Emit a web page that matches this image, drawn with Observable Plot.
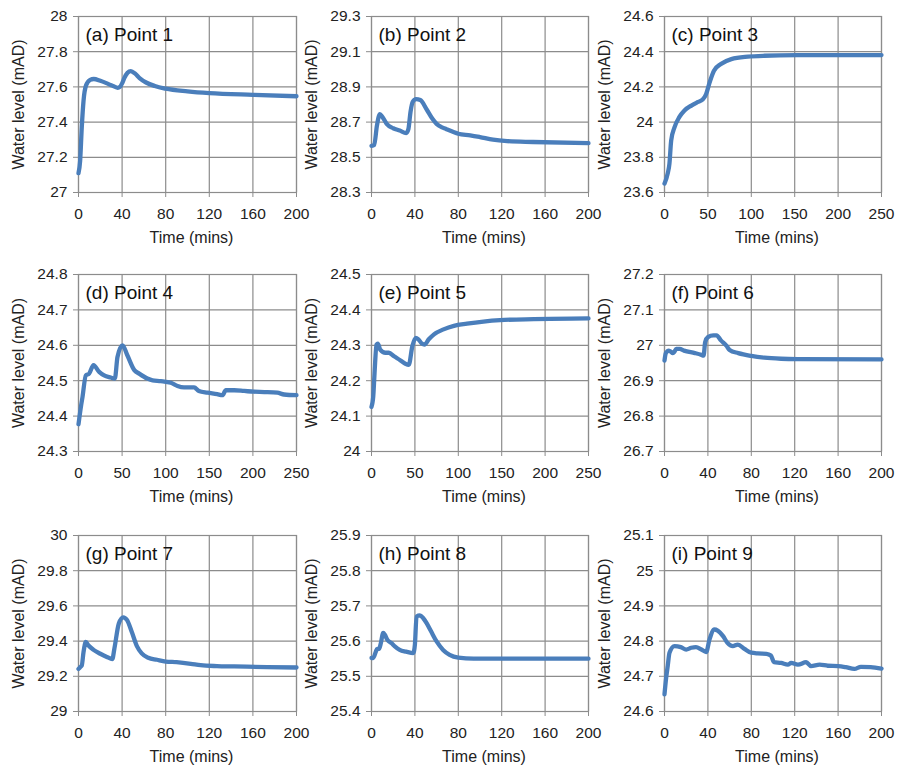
<!DOCTYPE html>
<html><head><meta charset="utf-8">
<script src="https://cdn.jsdelivr.net/npm/d3@7"></script>
<script src="https://cdn.jsdelivr.net/npm/@observablehq/plot@0.6"></script>
<style>
body{margin:0;background:#fff;}
#wrap{position:relative;width:897px;height:769px;background:#fff;overflow:hidden;}
.cell{position:absolute;}
.cell svg{overflow:visible;background:transparent;}
.cell svg .tick line{stroke:#8c8c8c;}
.cell svg g[aria-label="x-axis tick"] path,.cell svg g[aria-label="y-axis tick"] path{stroke:#8c8c8c;}
</style></head><body><div id="wrap"></div>
<script>
// ---- tick labels ----
const xTicks200 = [0, 40, 80, 120, 160, 200];
const xTicks250 = [0, 50, 100, 150, 200, 250];
const yTicksP1 = [27, 27.2, 27.4, 27.6, 27.8, 28];
const yTicksP2 = [28.3, 28.5, 28.7, 28.9, 29.1, 29.3];
const yTicksP3 = [23.6, 23.8, 24, 24.2, 24.4, 24.6];
const yTicksP4 = [24.3, 24.4, 24.5, 24.6, 24.7, 24.8];
const yTicksP5 = [24, 24.1, 24.2, 24.3, 24.4, 24.5];
const yTicksP6 = [26.7, 26.8, 26.9, 27, 27.1, 27.2];
const yTicksP7 = [29, 29.2, 29.4, 29.6, 29.8, 30];
const yTicksP8 = [25.4, 25.5, 25.6, 25.7, 25.8, 25.9];
const yTicksP9 = [24.6, 24.7, 24.8, 24.9, 25, 25.1];

// ---- series (time in mins, water level in mAD) ----
const p1Time  = [0,1.5,3,4.6,7,10.7,14,20,30,36,38,40,42,45,48,52,56,62,70,80,100,120,160,200];
const p1Level = [27.11,27.18,27.37,27.52,27.61,27.64,27.645,27.635,27.61,27.595,27.6,27.62,27.65,27.68,27.69,27.675,27.65,27.625,27.605,27.59,27.575,27.565,27.555,27.547];

const p2Time  = [0,2.5,5,7.7,10,14,20,26,32,34,36,38,41,45,51,56,60,65,69,75,80,91,100,112,125,149,200];
const p2Level = [28.565,28.57,28.68,28.745,28.73,28.69,28.665,28.652,28.638,28.66,28.76,28.815,28.83,28.825,28.77,28.72,28.69,28.67,28.66,28.645,28.634,28.625,28.615,28.6,28.592,28.587,28.58];

const p3Time  = [0,3.8,5.7,7.7,11.5,17,23,31,38,44,48,52,57,65,77,96,115,153,250];
const p3Level = [23.651,23.71,23.764,23.896,23.97,24.028,24.066,24.094,24.113,24.128,24.16,24.226,24.292,24.33,24.358,24.372,24.377,24.38,24.381];

const p4Time  = [0,3,4.6,8.4,12.2,17.2,23.7,29.4,37,41.7,44.7,50.5,56,64,69.6,79,85,94.4,106,113.5,121,132.6,138,148,159,165,169,178.5,190,201,213,228,235.8,250];
const p4Level = [24.377,24.43,24.454,24.515,24.52,24.544,24.525,24.515,24.509,24.506,24.567,24.6,24.572,24.53,24.52,24.506,24.501,24.499,24.494,24.485,24.481,24.481,24.471,24.466,24.462,24.459,24.473,24.473,24.471,24.469,24.468,24.466,24.461,24.459];

const p5Time  = [0,2,3.5,5.8,7.3,10,16,20,26,33,39,43,47,51,54,58,61,66,72,83,95,110,129,148,187,250];
const p5Level = [24.126,24.155,24.221,24.302,24.305,24.288,24.279,24.279,24.269,24.258,24.248,24.245,24.297,24.321,24.317,24.305,24.302,24.317,24.331,24.345,24.355,24.361,24.367,24.371,24.374,24.376];

const p6Time  = [0,1,2,3.7,5.5,7.7,9.2,10.8,14,18,28,34,36,37.5,40,45,48,52,57,60,68,80,92,107.5,123,200];
const p6Level = [26.957,26.976,26.981,26.985,26.983,26.978,26.982,26.99,26.99,26.985,26.978,26.973,26.971,27.009,27.023,27.028,27.028,27.014,26.999,26.987,26.978,26.97,26.965,26.962,26.961,26.96];

const p7Time  = [0,1.5,3,4.6,6.7,9.2,13.8,20,26,31,33,37,41,44.5,49,53.7,58,64,72,80,90,103,112,127,143,173,200];
const p7Level = [29.242,29.252,29.261,29.337,29.395,29.375,29.35,29.328,29.31,29.298,29.36,29.5,29.535,29.52,29.45,29.37,29.33,29.305,29.294,29.284,29.28,29.271,29.263,29.258,29.256,29.252,29.25];

const p8Time  = [0,1.5,4,5.2,7,8.6,10.8,12.3,14.5,18.5,21.5,26,32,38.5,40,41.5,44.6,47.7,50.8,55,60,66,72,80,94,200];
const p8Level = [25.552,25.552,25.57,25.578,25.578,25.594,25.623,25.618,25.604,25.594,25.585,25.575,25.57,25.566,25.59,25.67,25.673,25.665,25.651,25.627,25.599,25.575,25.561,25.553,25.55,25.55];

const p9Time  = [0,1.5,3,4.6,9.2,15,20,24.6,29,34,38.4,41.5,46,49,54,58,63,67.6,73.7,80,86,94,98,101,107.5,113.7,116.7,123,130.6,135,143,150.5,160,167,175,181,190,200];
const p9Level = [24.649,24.695,24.73,24.767,24.786,24.783,24.776,24.781,24.783,24.776,24.769,24.805,24.833,24.83,24.814,24.795,24.786,24.79,24.778,24.767,24.765,24.764,24.759,24.74,24.738,24.733,24.738,24.733,24.74,24.729,24.733,24.73,24.729,24.726,24.721,24.727,24.726,24.722];

const titles = ["(a) Point 1","(b) Point 2","(c) Point 3","(d) Point 4","(e) Point 5","(f) Point 6","(g) Point 7","(h) Point 8","(i) Point 9"];
const xLabel = "Time (mins)";
const yLabel = "Water level (mAD)";

const series = [
  [p1Time,p1Level,xTicks200,yTicksP1],
  [p2Time,p2Level,xTicks200,yTicksP2],
  [p3Time,p3Level,xTicks250,yTicksP3],
  [p4Time,p4Level,xTicks250,yTicksP4],
  [p5Time,p5Level,xTicks250,yTicksP5],
  [p6Time,p6Level,xTicks200,yTicksP6],
  [p7Time,p7Level,xTicks200,yTicksP7],
  [p8Time,p8Level,xTicks200,yTicksP8],
  [p9Time,p9Level,xTicks200,yTicksP9]
];

// layout (page pixels)
const colOrigin = [0, 300, 597];
const rowOrigin = [0, 256, 512];
const colFrame = [[78,296],[371,588],[664,881]];
const rowFrame = [[16,192],[274,451],[535,711]];
const W = 300, H = 256;
const grid = "#8c8c8c";
const font = "Arial, 'Liberation Sans', sans-serif";

const wrap = document.getElementById("wrap");
series.forEach(([tArr, vArr, xT, yT], i) => {
  const c = i % 3, r = Math.floor(i / 3);
  const ox = colOrigin[c], oy = rowOrigin[r];
  const [L, R] = colFrame[c], [T, B] = rowFrame[r];
  const data = tArr.map((t, j) => ({t, v: vArr[j]}));
  const chart = Plot.plot({
    width: W, height: H,
    marginLeft: L - ox, marginRight: ox + W - R,
    marginTop: T - oy, marginBottom: oy + H - B,
    style: {fontSize: "15.5px", fontFamily: font, color: "#222", background: "transparent", overflow: "visible"},
    x: {domain: [xT[0], xT[xT.length-1]], ticks: xT, tickSize: 5, tickPadding: 10, tickFormat: d => String(d), label: null},
    y: {domain: [yT[0], yT[yT.length-1]], ticks: yT, tickSize: 5, tickPadding: 6, tickFormat: d => String(d), label: null},
    marks: [
      Plot.ruleX(xT, {stroke: grid, strokeWidth: 1.2}),
      Plot.ruleY(yT, {stroke: grid, strokeWidth: 1.2}),
      Plot.frame({stroke: grid, strokeWidth: 1.2}),
      Plot.text([titles[i]], {text: d => d, frameAnchor: "top-left", dx: 7, dy: 11, textAnchor: "start", lineAnchor: "top", fontSize: 19, fill: "#111"}),
      Plot.line(data, {x: "t", y: "v", stroke: "#4A7EBB", strokeWidth: 4.3, curve: "monotone-x", strokeLinejoin: "round", strokeLinecap: "round"}),
      Plot.text([xLabel], {text: d => d, frameAnchor: "bottom", dx: 4, dy: 45, textAnchor: "middle", lineAnchor: "middle", fontSize: 16, fill: "#222"}),
      Plot.text([yLabel], {text: d => d, frameAnchor: "left", dx: -60, rotate: -90, textAnchor: "middle", lineAnchor: "middle", fontSize: 16, fill: "#222"})
    ]
  });
  const div = document.createElement("div");
  div.className = "cell";
  div.style.left = ox + "px";
  div.style.top = oy + "px";
  div.appendChild(chart);
  wrap.appendChild(div);
});
</script>
</body></html>
